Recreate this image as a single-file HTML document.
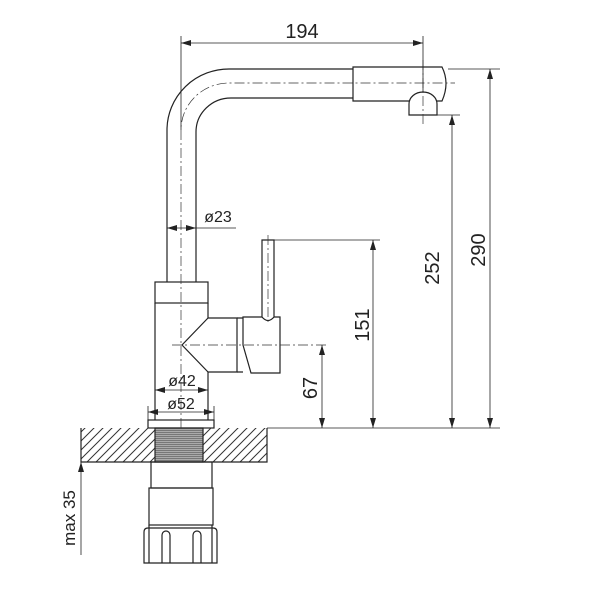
<!DOCTYPE html>
<html><head><style>body{margin:0;background:#fff}svg{display:block}text{font-family:"Liberation Sans",sans-serif;fill:#222}</style></head>
<body>
<svg width="600" height="600" viewBox="0 0 600 600" xmlns="http://www.w3.org/2000/svg">
<defs>
<marker id="a" viewBox="0 0 10 6" refX="10" refY="3" markerWidth="10" markerHeight="6" orient="auto-start-reverse" markerUnits="userSpaceOnUse"><path d="M0,0L10,3L0,6z" fill="#222"/></marker>
<pattern id="h" width="9" height="9" patternUnits="userSpaceOnUse"><path d="M-1,10 L10,-1 M-2,2 L2,-2 M7,11 L11,7" stroke="#333" stroke-width="1"/></pattern>
<pattern id="t" width="4" height="2" patternUnits="userSpaceOnUse"><rect width="4" height="1" fill="#777"/><rect y="1" width="4" height="1" fill="#aaa"/></pattern>
</defs>
<g fill="none" stroke="#222" stroke-width="1.2">
<path d="M167,282 V130 A62,61 0 0 1 230,69 H353"/>
<path d="M196,282 V132 A35,34 0 0 1 231,98 H353"/>
<path d="M353,67 H442 Q450,83 442,101 H353 Z"/>
<path d="M409,115 V104 A14,12 0 0 1 437,104 V115 Z" fill="#fff"/>
<rect x="155" y="282" width="53" height="21"/>
<path d="M155,303 V420 M208,303 V318 M208,372 V420"/>
<path d="M208,318 L182,345 L208,372"/>
<path d="M208,318 H237 V372 Q225,372 208,372"/>
<path d="M237,318 H243 M237,372 H243"/>
<path d="M243,317 H280 V373 H251 L243,345 Z"/>
<path d="M262,317 V240 H274 V317 Q268,324 262,317 Z" fill="#fff"/>
<rect x="148" y="420" width="66" height="8"/>
<rect x="81" y="428" width="74" height="34" fill="url(#h)" stroke="none"/>
<rect x="203" y="428" width="64" height="34" fill="url(#h)" stroke="none"/>
<rect x="155" y="428" width="48" height="34" fill="url(#t)"/>
<path d="M81,428 V462 H267 V428"/>
<rect x="151" y="462" width="61" height="26"/>
<rect x="149" y="488" width="64" height="37"/>
<path d="M148,528 Q144,528 144,532 V563 H217 V532 Q217,528 213,528 Z"/>
<path d="M149,563 V525 M212,563 V525"/>
<path d="M162,563 V535 A4,4 0 0 1 170,535 V563 M193,563 V535 A4,4 0 0 1 201,535 V563"/>
</g>
<g fill="none" stroke="#333" stroke-width="0.7" stroke-dasharray="10,3,2,3">
<path d="M181,428 V130 A48,47 0 0 1 230,83 H455"/>
<path d="M423,60 V125"/>
<path d="M268,235 V325"/>
<path d="M172,345 H328"/>
</g>
<g fill="none" stroke="#222" stroke-width="0.8">
<path d="M181,36 V130 M423,36 V92"/>
<path d="M181,43 H423" marker-start="url(#a)" marker-end="url(#a)"/>
<path d="M448,69 H500 M437,115 H460 M267,428 H500 M274,240 H380"/>
<path d="M452,115 V428" marker-start="url(#a)" marker-end="url(#a)"/>
<path d="M490,69 V428" marker-start="url(#a)" marker-end="url(#a)"/>
<path d="M373,240 V428" marker-start="url(#a)" marker-end="url(#a)"/>
<path d="M322,345 V428" marker-start="url(#a)" marker-end="url(#a)"/>
<path d="M167,228 H196" marker-start="url(#a)" marker-end="url(#a)"/>
<path d="M196,228 H236"/>
<path d="M155,390 H208" marker-start="url(#a)" marker-end="url(#a)"/>
<path d="M148,412 H214" marker-start="url(#a)" marker-end="url(#a)"/>
<path d="M148,406 V420 M214,406 V420"/>
<path d="M81,555 V462" marker-end="url(#a)"/>
</g>
<g font-size="20">
<text x="302" y="38" text-anchor="middle">194</text>
<text x="218" y="222" text-anchor="middle" font-size="16">ø23</text>
<text x="182" y="386" text-anchor="middle" font-size="16">ø42</text>
<text x="181" y="409" text-anchor="middle" font-size="16">ø52</text>
<text transform="translate(369,325) rotate(-90)" text-anchor="middle">151</text>
<text transform="translate(317,388) rotate(-90)" text-anchor="middle">67</text>
<text transform="translate(439,268) rotate(-90)" text-anchor="middle">252</text>
<text transform="translate(485,250) rotate(-90)" text-anchor="middle">290</text>
<text transform="translate(75,518) rotate(-90)" text-anchor="middle" font-size="17">max 35</text>
</g>
</svg>
</body></html>
